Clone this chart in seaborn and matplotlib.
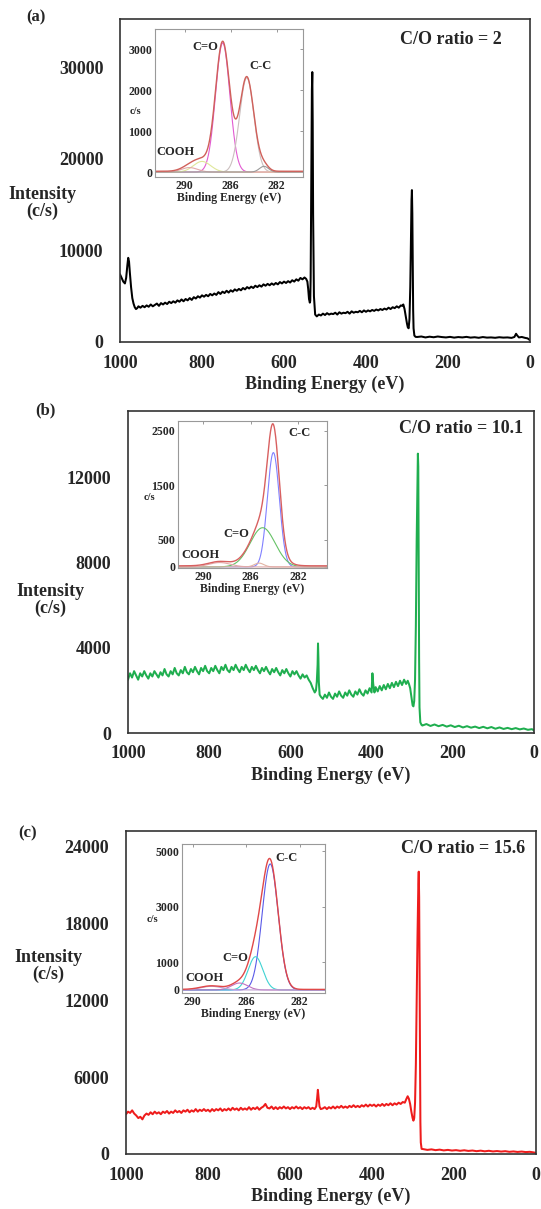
import numpy as np
import pandas as pd
import matplotlib
matplotlib.use("Agg")
import matplotlib.pyplot as plt
import seaborn as sns

# ---------------- survey spectra data ----------------
# panel (a)  C/O = 2
energy_a = [1000, 996, 992, 988, 985, 982, 980, 978, 976, 973, 970, 967, 964, 961, 958,
            955, 950, 945, 940, 935, 930, 925, 920, 915, 910, 905, 900, 895, 890, 885, 880, 875, 870,
            865, 860, 855, 850, 845, 840, 835, 830, 825, 820, 815, 810, 805, 800, 795, 790, 785, 780,
            775, 770, 765, 760, 755, 750, 745, 740, 735, 730, 725, 720, 715, 710, 705, 700, 695, 690,
            685, 680, 675, 670, 665, 660, 655, 650, 645, 640, 635, 630, 625, 620, 615, 610, 605, 600,
            595, 590, 585, 580, 575, 570, 565, 560, 555, 550, 546,
            543, 541, 539, 537, 536, 535, 534, 533, 532, 531, 530, 529, 527, 524,
            520, 515, 510, 505, 500, 495, 490, 485, 480, 475, 470, 465, 460, 455, 450, 445, 440, 435,
            430, 425, 420, 415, 410, 405, 400, 395, 390, 385, 380, 375, 370, 365, 360, 355, 350, 345,
            340, 335, 330, 325, 320, 315, 312, 309,
            306, 303, 300, 298, 296, 294, 292, 290, 289, 288, 287, 286, 285, 284, 282, 279,
            275, 265, 255, 245, 235, 225, 215, 205, 195, 185, 175, 165, 155, 145, 135, 125, 115, 105,
            95, 85, 75, 65, 55, 45, 38, 34, 31, 27, 20, 12, 6, 0]
intensity_a = [7400, 7000, 6600, 6400, 7000, 8400, 9200, 8800, 7600, 6000, 4800, 4200, 3800, 3600, 3700,
               3900, 3750, 3950, 3800, 4000, 3850, 4100, 3900, 4050, 4200, 3950, 4250, 4100, 4300, 4150, 4400, 4250, 4450,
               4300, 4550, 4400, 4650, 4450, 4700, 4550, 4800, 4600, 4900, 4750, 5000, 4850, 5100, 4950, 5150, 5000, 5250,
               5100, 5300, 5150, 5450, 5250, 5500, 5350, 5600, 5400, 5650, 5500, 5750, 5600, 5800, 5650, 5900, 5750, 6000,
               5850, 6050, 5900, 6150, 6000, 6200, 6050, 6300, 6150, 6350, 6200, 6400, 6250, 6450, 6300, 6550, 6400, 6600,
               6450, 6650, 6500, 6750, 6600, 6850, 6700, 7000, 6850, 7050, 6900,
               6600, 5800, 4700, 4300, 4500, 7000, 14000, 22000, 27500, 29500, 24000, 14000, 5000, 3000,
               2800, 3000, 2900, 3100, 2950, 3150, 3000, 3100, 3050, 3200, 3000, 3250, 3100, 3200, 3150, 3300, 3100, 3350,
               3200, 3300, 3250, 3400, 3250, 3450, 3300, 3450, 3350, 3500, 3400, 3550, 3450, 3600, 3500, 3650, 3550, 3750,
               3600, 3800, 3700, 3900, 3750, 4000, 3950, 4100,
               3600, 2800, 2000, 1600, 1500, 2500, 6000, 12000, 15500, 16600, 14000, 8000, 3500, 1500, 700, 560,
               550, 600, 500, 580, 520, 600, 540, 500, 560, 480, 540, 500, 560, 480, 520, 460, 540, 480,
               500, 460, 520, 480, 500, 450, 550, 900, 700, 500, 550, 450, 400, 200]

# panel (b)  C/O = 10.1
energy_b = [1000, 995, 990, 985, 980, 975, 970, 965, 960, 955, 950, 945, 940, 935, 930, 925, 920, 915, 910,
            905, 900, 895, 890, 885, 880, 875, 870, 865, 860, 855, 850, 845, 840, 835, 830, 825, 820, 815, 810,
            805, 800, 795, 790, 785, 780, 775, 770, 765, 760, 755, 750, 745, 740, 735, 730, 725, 720, 715, 710,
            705, 700, 695, 690, 685, 680, 675, 670, 665, 660, 655, 650, 645, 640, 635, 630, 625, 620, 615, 610,
            605, 600, 595, 590, 585, 580, 575, 570, 565, 560, 555, 550, 545, 540, 537, 535, 533, 532, 531, 530, 528, 525,
            520, 515, 510, 505, 500, 495, 490, 485, 480, 475, 470, 465, 460, 455, 450, 445, 440, 435, 430, 425,
            420, 415, 410, 405, 400, 398, 396, 393, 390, 385, 380, 375, 370, 365, 360, 355, 350, 345, 340, 335,
            330, 325, 320, 315, 311, 308, 305, 302, 299, 297, 295, 293, 291, 289, 287, 286, 285, 284, 283, 282, 280, 277,
            275, 265, 255, 245, 235, 225, 215, 205, 195, 185, 175, 165, 155, 145, 135, 125, 115, 105,
            95, 85, 75, 65, 55, 45, 35, 25, 15, 5, 0]
intensity_b = [2500, 2800, 2600, 2900, 2700, 2500, 2800, 2650, 2900, 2700, 2550, 2800, 2650, 2900, 2750, 2600, 2850, 2700, 3000,
               2750, 2650, 2900, 2750, 3050, 2800, 2700, 2950, 2800, 3100, 2850, 2750, 3000, 2850, 3100, 2900, 2750, 3050, 2900, 3150,
               2900, 2800, 3050, 2900, 3150, 2950, 2800, 3100, 2950, 3200, 2950, 2850, 3100, 2950, 3200, 3000, 2850, 3100, 2950, 3200,
               3000, 2850, 3100, 2950, 3150, 2950, 2800, 3050, 2900, 3100, 2900, 2750, 3000, 2850, 3050, 2850, 2700, 2950, 2800, 3000,
               2800, 2650, 2900, 2750, 2900, 2700, 2550, 2750, 2600, 2700, 2500, 2350, 2100, 1900, 2000, 2400, 3200, 4200, 3500, 2400, 1800, 1700,
               1600, 1800, 1650, 1900, 1700, 1600, 1850, 1700, 1950, 1750, 1650, 1900, 1750, 2000, 1800, 1700, 1950, 1800, 2050, 1850,
               1750, 2000, 1850, 2100, 1900, 2800, 2300, 1900, 2150, 1950, 2200, 2000, 2250, 2050, 2300, 2100, 2350, 2150, 2400, 2200,
               2450, 2250, 2500, 2300, 2450, 2300, 2100, 1700, 1300, 1250, 1500, 2500, 5000, 9000, 12000, 13100, 12500, 8000, 3500, 1200, 500, 380,
               350, 420, 330, 400, 320, 380, 300, 360, 280, 340, 260, 320, 250, 300, 230, 290, 220, 280,
               200, 260, 190, 240, 180, 230, 170, 210, 150, 180, 120]

# panel (c)  C/O = 15.6
energy_c = [1000, 995, 990, 985, 980, 975, 970, 965, 960, 955, 950, 945, 940, 935, 930, 925, 920, 915, 910,
            905, 900, 895, 890, 885, 880, 875, 870, 865, 860, 855, 850, 845, 840, 835, 830, 825, 820, 815, 810,
            805, 800, 795, 790, 785, 780, 775, 770, 765, 760, 755, 750, 745, 740, 735, 730, 725, 720, 715, 710,
            705, 700, 695, 690, 685, 680, 675, 670, 665, 660, 655, 650, 645, 640, 635, 630, 625, 620, 615, 610,
            605, 600, 595, 590, 585, 580, 575, 570, 565, 560, 555, 550, 545, 540, 536, 534, 532, 530, 528, 525,
            520, 515, 510, 505, 500, 495, 490, 485, 480, 475, 470, 465, 460, 455, 450, 445, 440, 435, 430, 425,
            420, 415, 410, 405, 400, 395, 390, 385, 380, 375, 370, 365, 360, 355, 350, 345, 340, 335, 330, 325,
            320, 316, 313, 310, 307, 304, 301, 299, 297, 295, 293, 291, 289, 287, 286, 285, 284, 283, 282, 281, 279,
            275, 265, 255, 245, 235, 225, 215, 205, 195, 185, 175, 165, 155, 145, 135, 125, 115, 105,
            95, 85, 75, 65, 55, 45, 35, 25, 15, 5, 0]
intensity_c = [3100, 3300, 3200, 3400, 3150, 3000, 2800, 2900, 2700, 3000, 3150, 3050, 3250, 3100, 3300, 3150, 3250, 3100, 3300,
               3200, 3350, 3150, 3300, 3200, 3400, 3250, 3350, 3200, 3400, 3300, 3450, 3250, 3400, 3300, 3500, 3300, 3450, 3350, 3500,
               3350, 3450, 3300, 3500, 3350, 3500, 3400, 3550, 3350, 3500, 3400, 3550, 3400, 3600, 3450, 3550, 3400, 3600, 3450, 3550,
               3450, 3650, 3450, 3600, 3500, 3650, 3450, 3600, 3700, 3900, 3600, 3550, 3700, 3500, 3650, 3500, 3650, 3550, 3700, 3550,
               3650, 3500, 3650, 3550, 3700, 3550, 3650, 3500, 3650, 3550, 3650, 3500, 3600, 3500, 3700, 4300, 5000, 4300, 3700, 3500,
               3550, 3650, 3500, 3650, 3550, 3700, 3550, 3700, 3600, 3750, 3600, 3700, 3600, 3750, 3650, 3800, 3650, 3750, 3650, 3800,
               3700, 3850, 3700, 3850, 3750, 3850, 3700, 3850, 3750, 3900, 3750, 3900, 3800, 3950, 3800, 3950, 3850, 4000, 3900, 4050,
               4000, 4300, 4500, 4300, 3900, 3300, 2800, 2600, 2800, 4000, 7000, 12000, 17000, 21000, 22000, 20000, 14000, 7000, 2500, 900, 400,
               380, 320, 360, 300, 340, 280, 320, 270, 300, 250, 290, 240, 270, 220, 260, 210, 250, 200,
               230, 190, 220, 170, 200, 160, 190, 150, 170, 120, 80]

# ---------------- C1s inset fit components (center eV, height c/s, sigma eV) ----------------
inset_a_names = ["C=O", "C-C", "COOH", "pi", "sat"]
inset_a_centers = [286.7, 284.6, 288.5, 289.6, 283.1]
inset_a_heights = [3150, 2300, 260, 110, 140]
inset_a_sigmas = [0.62, 0.62, 0.75, 0.7, 0.4]
inset_a_colors = ["#e25bd2", "#cbbfbf", "#dfe79a", "#e2a9a9", "#9a9a9a"]

inset_b_names = ["C-C", "C=O", "C-O", "COOH"]
inset_b_centers = [284.1, 285.0, 285.3, 288.6]
inset_b_heights = [2100, 720, 70, 80]
inset_b_sigmas = [0.5, 1.05, 0.4, 0.9]
inset_b_colors = ["#8080ff", "#66c266", "#e2b4a4", "#e2a9a9"]

inset_c_names = ["C-C", "C=O", "C-O", "COOH"]
inset_c_centers = [284.2, 285.3, 286.5, 288.6]
inset_c_heights = [4550, 1200, 250, 130]
inset_c_sigmas = [0.6, 0.55, 0.6, 0.8]
inset_c_colors = ["#5a5ae8", "#3fd3d3", "#c070c0", "#c0a0d0"]

# ---------------- styling ----------------
sns.set_style("white")
plt.rcParams['font.family'] = ['Liberation Serif', 'DejaVu Serif']
plt.rcParams['font.weight'] = 'bold'

W, H = 541, 1209
fig = plt.figure(figsize=(W / 100, H / 100), dpi=100)
fig.patch.set_facecolor("white")


def ax_px(l, t, r, b):
    return fig.add_axes([l / W, 1 - b / H, (r - l) / W, (b - t) / H])


def ftext(x, y, s, **kw):
    fig.text(x / W, 1 - y / H, s, **kw)


def main_panel(box, energy, inten, color, ymax, yticks, ratio_text, ratio_pos, letter, letter_pos, ylab_pos):
    ax = ax_px(*box)
    df = pd.DataFrame({"E": energy, "I": inten})
    sns.lineplot(data=df, x="E", y="I", ax=ax, color=color, lw=1.45, estimator=None, sort=False)
    ax.set_xlim(1000, 0)
    ax.set_ylim(0, ymax)
    ax.set_xticks([1000, 800, 600, 400, 200, 0])
    ax.set_yticks(yticks)
    ax.tick_params(axis="both", length=0, labelsize=13)
    ax.tick_params(axis="x", pad=9)
    ax.tick_params(axis="y", pad=12)
    for lab in ax.get_xticklabels() + ax.get_yticklabels():
        lab.set_fontweight("bold")
    ax.set_xlabel("Binding Energy (eV)", fontsize=13, fontweight="bold", labelpad=3)
    ax.set_ylabel("")
    for sp in ax.spines.values():
        sp.set_visible(True)
        sp.set_color("#333333")
        sp.set_linewidth(1.2)
    ax.text(ratio_pos[0], ratio_pos[1], ratio_text, transform=ax.transAxes, ha="right", va="center",
            fontsize=13, fontweight="bold")
    ftext(letter_pos[0], letter_pos[1], letter, fontsize=12, fontweight="bold", ha="center", va="center")
    ftext(ylab_pos[0], ylab_pos[1], "Intensity\n(c/s)", fontsize=13, fontweight="bold", ha="center",
          va="center", linespacing=1.0)
    return ax


def inset_panel(box, xlim, ylim, yticks, names, centers, heights, sigmas, colors, env_color,
                labels, cs_pos):
    ax = ax_px(*box)
    x = np.linspace(xlim[0], xlim[1], 500)
    total = np.zeros_like(x)
    for n, c, h, s, col in zip(names, centers, heights, sigmas, colors):
        comp = h * np.exp(-(x - c) ** 2 / (2 * s ** 2))
        total += comp
        sns.lineplot(x=x, y=comp, ax=ax, color=col, lw=0.8, estimator=None, sort=False)
    sns.lineplot(x=x, y=total + 20, ax=ax, color=env_color, lw=1.0, estimator=None, sort=False)
    ax.set_xlim(*xlim)
    ax.set_ylim(*ylim)
    ax.set_xticks([290, 286, 282])
    ax.set_yticks(yticks)
    ax.tick_params(axis="both", direction="in", length=2, width=0.6, color="#888888",
                   labelsize=8.5, pad=2, top=True, right=True)
    for lab in ax.get_xticklabels() + ax.get_yticklabels():
        lab.set_fontweight("bold")
    ax.set_xlabel("Binding Energy (eV)", fontsize=8.5, fontweight="bold", labelpad=0)
    ax.set_ylabel("")
    for sp in ax.spines.values():
        sp.set_visible(True)
        sp.set_color("#999999")
        sp.set_linewidth(0.8)
    for (t, lx, ly) in labels:
        ax.text(lx, ly, t, ha="center", va="center", fontsize=9, fontweight="bold")
    ftext(cs_pos[0], cs_pos[1], "c/s", fontsize=7.5, fontweight="bold", ha="center", va="center")
    return ax


# (a)
main_panel((120, 19, 530, 342), energy_a, intensity_a, "black", 35300, [0, 10000, 20000, 30000],
           "C/O ratio = 2", (0.932, 0.938), "(a)", (36, 17), (42, 203))
inset_panel((155, 29, 303, 177), (292.6, 279.7), (-120, 3490), [0, 1000, 2000, 3000],
            inset_a_names, inset_a_centers, inset_a_heights, inset_a_sigmas, inset_a_colors, "#d0605a",
            [("C=O", 288.2, 3050), ("C-C", 283.4, 2590), ("COOH", 290.8, 490)], (135, 112))

# (b)
main_panel((128, 411, 534, 733), energy_b, intensity_b, "#1fae4f", 15100, [0, 4000, 8000, 12000],
           "C/O ratio = 10.1", (0.973, 0.947), "(b)", (45, 410), (50, 600))
inset_panel((178, 421, 327, 568), (292.1, 279.6), (-20, 2680), [0, 500, 1500, 2500],
            inset_b_names, inset_b_centers, inset_b_heights, inset_b_sigmas, inset_b_colors, "#d86060",
            [("C-C", 281.9, 2460), ("C=O", 287.2, 605), ("COOH", 290.2, 220)], (149, 497))

# (c)
main_panel((126, 831, 536, 1154), energy_c, intensity_c, "#ee1c1c", 25170, [0, 6000, 12000, 18000, 24000],
           "C/O ratio = 15.6", (0.973, 0.947), "(c)", (28, 833), (48, 966))
inset_panel((182, 844, 325, 993), (290.8, 280.1), (-110, 5270), [0, 1000, 3000, 5000],
            inset_c_names, inset_c_centers, inset_c_heights, inset_c_sigmas, inset_c_colors, "#e04848",
            [("C-C", 283.0, 4760), ("C=O", 286.8, 1150), ("COOH", 289.1, 430)], (152, 920))

fig.savefig("out.png", dpi=100, facecolor="white")
